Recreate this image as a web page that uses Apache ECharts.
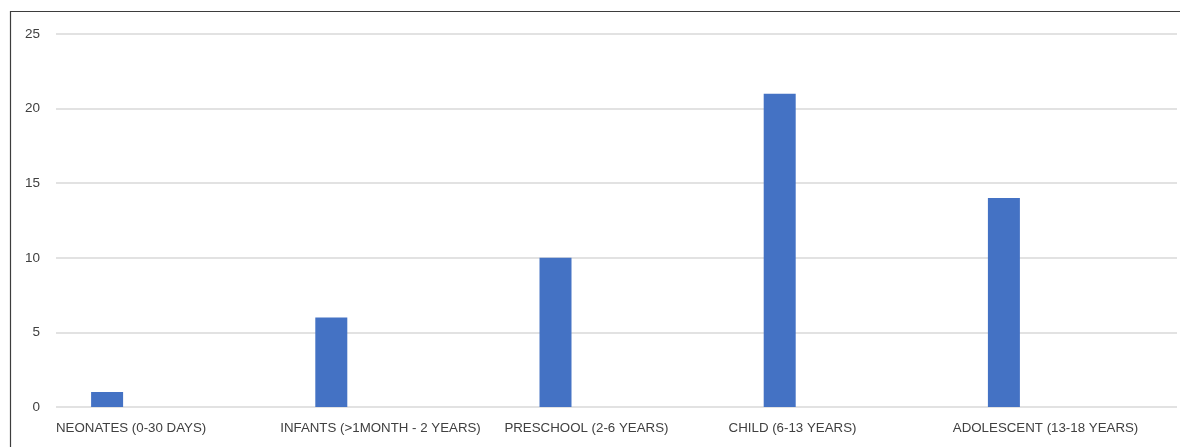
<!DOCTYPE html>
<html>
<head>
<meta charset="utf-8">
<script src="https://cdn.jsdelivr.net/npm/echarts@6/dist/echarts.min.js"></script>
<style>
  html, body { margin: 0; padding: 0; background: #fff; }
  #chart { width: 1180px; height: 447px; }
</style>
</head>
<body>
<div id="chart"></div>
<script>
// Age groups and patient counts
const categories = [
  'NEONATES (0-30 DAYS)',
  'INFANTS (>1MONTH - 2 YEARS)',
  'PRESCHOOL (2-6 YEARS)',
  'CHILD (6-13 YEARS)',
  'ADOLESCENT (13-18 YEARS)'
];
const counts = [1, 6, 10, 21, 14];
const yTicks = { min: 0, max: 25, interval: 5 };

const font = 'Liberation Sans, Arial, sans-serif';
const chart = echarts.init(document.getElementById('chart'), null, { renderer: 'canvas' });

chart.setOption({
  animation: false,
  backgroundColor: '#ffffff',
  grid: { left: 56, right: 3, top: 34, bottom: 40, containLabel: false },
  graphic: [{
    type: 'rect',
    shape: { x: 10.5, y: 11.5, width: 1300, height: 600 },
    style: { fill: 'none', stroke: '#3d3d3d', lineWidth: 1.2 },
    silent: true,
    z: 100
  }],
  xAxis: [{
    type: 'category',
    data: categories,
    axisLine: { show: false },
    axisTick: { show: false },
    axisLabel: { show: false },
    splitLine: { show: false }
  }, {
    // label axis: each category name starts at the left edge of its band
    type: 'value',
    position: 'bottom',
    min: 0,
    max: categories.length,
    interval: 1,
    axisLine: { show: false },
    axisTick: { show: false },
    splitLine: { show: false },
    axisLabel: {
      align: 'left',
      margin: 15,
      color: '#404040',
      fontFamily: font,
      fontSize: 13.3,
      showMaxLabel: false,
      formatter: v => categories[v] || ''
    }
  }],
  yAxis: {
    type: 'value',
    min: yTicks.min,
    max: yTicks.max,
    interval: yTicks.interval,
    axisLine: { show: false },
    axisTick: { show: false },
    axisLabel: { margin: 16, color: '#404040', fontFamily: font, fontSize: 13.5 },
    splitLine: { lineStyle: { color: '#d9d9d9', width: 1.5 } }
  },
  series: [{
    type: 'bar',
    name: 'Patients',
    data: counts,
    barWidth: 32,
    barGap: '0%',
    itemStyle: { color: '#4472C4' }
  }, {
    // empty companion series that reserves the remaining slot in each band
    type: 'bar',
    name: '',
    data: [],
    barWidth: 122,
    barGap: '0%'
  }]
});
</script>
</body>
</html>
